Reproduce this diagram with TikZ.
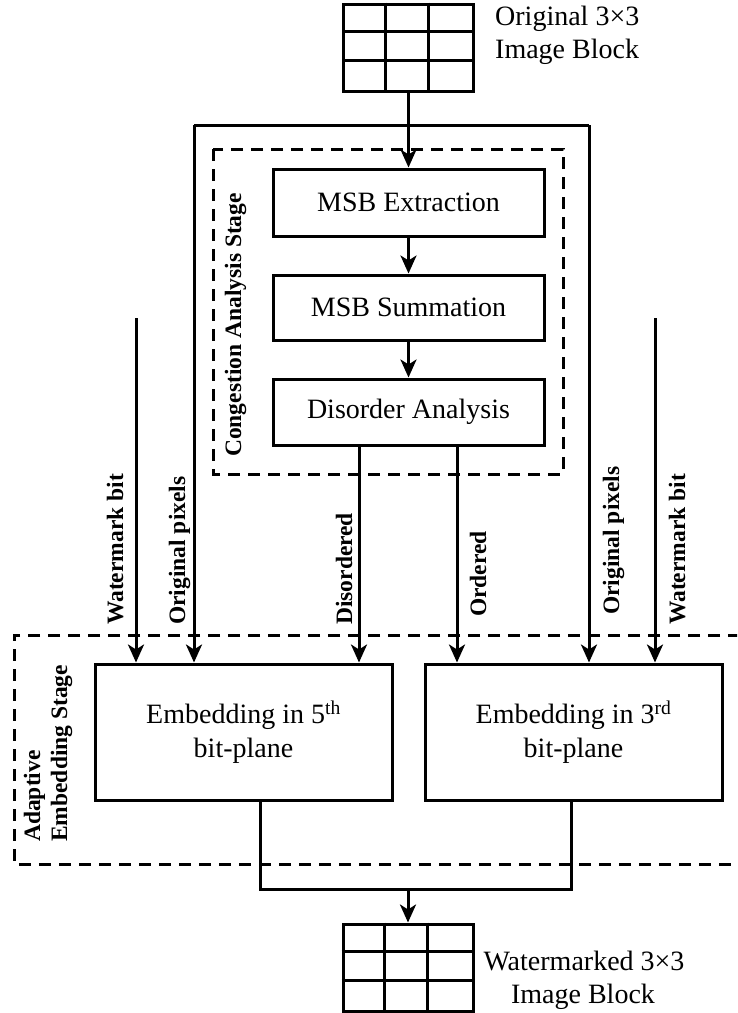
\documentclass[tikz,border=0pt]{standalone}
\usepackage{fontspec}
\setmainfont{Liberation Serif}
\usetikzlibrary{arrows.meta}
\begin{document}
\begin{tikzpicture}[x=1pt,y=-1pt,
  ln/.style={line width=3pt},
  arr/.style={line width=3pt,-{Stealth[length=18pt,width=16pt,inset=5pt]}},
  dsh/.style={line width=3pt,dash pattern=on 12pt off 8pt},
  box/.style={draw,line width=3pt,inner sep=0pt,font=\fontsize{28}{34}\selectfont,align=center},
  grd/.style={draw,line width=3pt,inner sep=0pt,minimum width=130pt,minimum height=87pt},
  lbl/.style={font=\fontsize{23.5}{28}\selectfont\bfseries,rotate=90,anchor=base west,inner sep=0pt},
  txt/.style={font=\fontsize{28}{34}\selectfont,inner sep=0pt,anchor=base},
]
\clip (0,0) rectangle (737,1013);

% top image block
\node[grd] (gin) at (408.5,47.5) {};
\draw[ln] (gin.north west) ++(43.3,0) -- ++(0,87);
\draw[ln] (gin.north west) ++(86.7,0) -- ++(0,87);
\draw[ln] (gin.north west) ++(0,29) -- ++(130,0);
\draw[ln] (gin.north west) ++(0,58) -- ++(130,0);
\node[txt,anchor=base west] (t1) at (495,25) {Original 3×3};
\node[txt,anchor=base west] (t2) at (495,58) {Image Block};

% congestion analysis stage
\draw[dsh] (213,149) rectangle (563,474);
\node[lbl] (cas) at (241,457) {Congestion Analysis Stage};
\node[box,minimum width=271pt,minimum height=67pt] (ext) at (408.5,202.5) {MSB Extraction};
\node[box,minimum width=271pt,minimum height=65pt] (sum) at (408.5,307.5) {MSB Summation};
\node[box,minimum width=271pt,minimum height=66pt] (dis) at (408.5,412) {Disorder Analysis};

% adaptive embedding stage
\draw[dsh] (760,635) -- (14,635) -- (14,864) -- (760,864);
\node[lbl] (aes1) at (40,842) {Adaptive};
\node[lbl] (aes2) at (67,842) {Embedding Stage};
\node[box,minimum width=297pt,minimum height=136pt] (eL) at (243.5,732) {Embedding in 5\textsuperscript{th}\\bit-plane};
\node[box,minimum width=297pt,minimum height=136pt] (eR) at (573.5,732) {Embedding in 3\textsuperscript{rd}\\bit-plane};

% connectors
\draw[arr] (gin.south) -- (ext.north);
\draw[arr] (ext.south) -- (sum.north);
\draw[arr] (sum.south) -- (dis.north);
\coordinate (opL) at (194,125);
\coordinate (opR) at (589,125);
\draw[ln] (opL) -- (opR);
\draw[arr] (opL) -- (opL |- eL.north);
\draw[arr] (opR) -- (opR |- eR.north);
\coordinate (wL) at (136,318);
\coordinate (wR) at (655,318);
\draw[arr] (wL) -- (wL |- eL.north);
\draw[arr] (wR) -- (wR |- eR.north);
\draw[arr] ([xshift=-49.5pt]dis.south) -- ([xshift=-49.5pt]dis.south |- eL.north);
\draw[arr] ([xshift=48.5pt]dis.south) -- ([xshift=48.5pt]dis.south |- eR.north);

% labels
\node[lbl] (l1) at (123,625) {Watermark bit};
\node[lbl] (l2) at (185,625) {Original pixels};
\node[lbl] (l3) at (352,625) {Disordered};
\node[lbl] (l4) at (486,617) {Ordered};
\node[lbl] (l5) at (619,615) {Original pixels};
\node[lbl] (l6) at (685,625) {Watermark bit};

% output
\coordinate (jn) at (408,889);
\node[grd] (gout) at (408,967.5) {};
\draw[ln] (gout.north west) ++(43,0) -- ++(0,87);
\draw[ln] (gout.north west) ++(86,0) -- ++(0,87);
\draw[ln] (gout.north west) ++(0,29) -- ++(130,0);
\draw[ln] (gout.north west) ++(0,58) -- ++(130,0);
\draw[ln] ([xshift=16.5pt]eL.south) |- (jn) -| ([xshift=-2.5pt]eR.south);
\draw[arr] (jn) -- (gout.north);
\node[txt] (b1) at (584,970) {Watermarked 3×3};
\node[txt] (b2) at (583,1003) {Image Block};
\end{tikzpicture}
\end{document}
